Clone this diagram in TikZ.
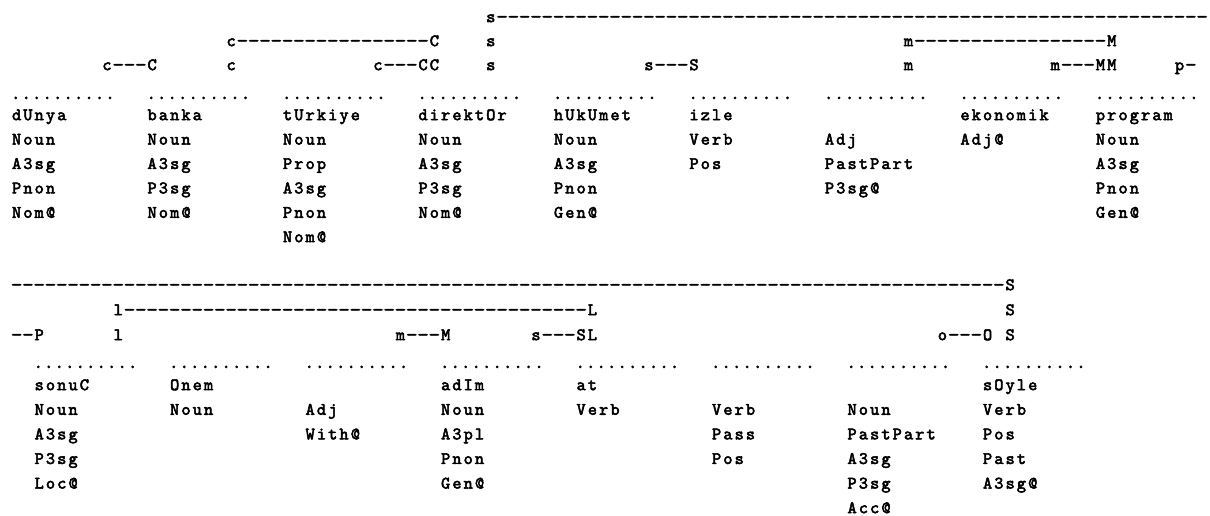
\documentclass[tikz,border=0pt]{standalone}
\usepackage{fontspec}
\newfontfamily\twb{lmmono10-regular.otf}[FakeBold=3]
\newlength\cw \setlength\cw{11.29pt}
\newlength\dw \setlength\dw{10.48pt}
\makeatletter
\newcommand\spc[1]{\@tfor\nx:=#1\do{\makebox[\cw][c]{\nx}}}
\makeatother
\newcommand\dsh[1]{\foreach\ii in {1,...,#1}{\makebox[\cw][c]{\scalebox{1.25}[1]{-}}}}
\newcommand\dotz{\foreach\ii in {1,...,10}{\makebox[\dw][c]{.}}}
\tikzset{
  tt/.style={anchor=mid west,inner sep=0pt,outer sep=0pt,font=\twb\fontsize{17.5}{20}\selectfont},
  dotrow/.style={tt,anchor=base west}}
\newcommand\Tx[4]{\node[tt] (#1) at ({11+11.29*#2},#3) {#4};}
\begin{document}
\begin{tikzpicture}[x=1pt,y=-1pt]
\fill[white] (0,0) rectangle (1210,515);
\useasboundingbox (0,0) rectangle (1210,515);
% ---------- top link rows
\Tx{la1}{42}{20}{\spc{s}\dsh{63}}
\Tx{lb1}{19}{44}{\spc{c}\dsh{17}\spc{C}}
\Tx{lb2}{42}{44}{\spc{s}}
\Tx{lb3}{79}{44}{\spc{m}\dsh{17}\spc{M}}
\Tx{lc1}{8}{68}{\spc{c}\dsh{3}\spc{C}}
\Tx{lc2}{19}{68}{\spc{c}}
\Tx{lc3}{32}{68}{\spc{c}\dsh{3}\spc{CC}}
\Tx{lc4}{42}{68}{\spc{s}}
\Tx{lc5}{56}{68}{\spc{s}\dsh{3}\spc{S}}
\Tx{lc6}{79}{68}{\spc{m}}
\Tx{lc7}{92}{68}{\spc{m}\dsh{3}\spc{MM}}
\Tx{lc8}{103}{68}{\spc{p}\dsh{1}}
% ---------- top dots
\foreach \k in {0,12,...,96}{\node[dotrow] (td\k) at ({11+11.29*\k-0.5},99) {\dotz};}
% ---------- top words
\Tx{a0}{0}{118}{\spc{dUnya}}
\Tx{a1}{0}{142.4}{\spc{Noun}}
\Tx{a2}{0}{166.8}{\spc{A3sg}}
\Tx{a3}{0}{191.2}{\spc{Pnon}}
\Tx{a4}{0}{215.6}{\spc{Nom@}}
\Tx{b0}{12}{118}{\spc{banka}}
\Tx{b1}{12}{142.4}{\spc{Noun}}
\Tx{b2}{12}{166.8}{\spc{A3sg}}
\Tx{b3}{12}{191.2}{\spc{P3sg}}
\Tx{b4}{12}{215.6}{\spc{Nom@}}
\Tx{c0}{24}{118}{\spc{tUrkiye}}
\Tx{c1}{24}{142.4}{\spc{Noun}}
\Tx{c2}{24}{166.8}{\spc{Prop}}
\Tx{c3}{24}{191.2}{\spc{A3sg}}
\Tx{c4}{24}{215.6}{\spc{Pnon}}
\Tx{c5}{24}{240}{\spc{Nom@}}
\Tx{e0}{36}{118}{\spc{direktOr}}
\Tx{e1}{36}{142.4}{\spc{Noun}}
\Tx{e2}{36}{166.8}{\spc{A3sg}}
\Tx{e3}{36}{191.2}{\spc{P3sg}}
\Tx{e4}{36}{215.6}{\spc{Nom@}}
\Tx{f0}{48}{118}{\spc{hUkUmet}}
\Tx{f1}{48}{142.4}{\spc{Noun}}
\Tx{f2}{48}{166.8}{\spc{A3sg}}
\Tx{f3}{48}{191.2}{\spc{Pnon}}
\Tx{f4}{48}{215.6}{\spc{Gen@}}
\Tx{g0}{60}{118}{\spc{izle}}
\Tx{g1}{60}{142.4}{\spc{Verb}}
\Tx{g2}{60}{166.8}{\spc{Pos}}
\Tx{h1}{72}{142.4}{\spc{Adj}}
\Tx{h2}{72}{166.8}{\spc{PastPart}}
\Tx{h3}{72}{191.2}{\spc{P3sg@}}
\Tx{i0}{84}{118}{\spc{ekonomik}}
\Tx{i1}{84}{142.4}{\spc{Adj@}}
\Tx{j0}{96}{118}{\spc{program}}
\Tx{j1}{96}{142.4}{\spc{Noun}}
\Tx{j2}{96}{166.8}{\spc{A3sg}}
\Tx{j3}{96}{191.2}{\spc{Pnon}}
\Tx{j4}{96}{215.6}{\spc{Gen@}}
% ---------- bottom link rows
\Tx{ma1}{0}{288}{\dsh{88}\spc{S}}
\Tx{mb1}{9}{313}{\spc{l}\dsh{41}\spc{L}}
\Tx{mb2}{88}{313}{\spc{S}}
\Tx{mc1}{0}{338}{\dsh{2}\spc{P}}
\Tx{mc2}{9}{338}{\spc{l}}
\Tx{mc3}{34}{338}{\spc{m}\dsh{3}\spc{M}}
\Tx{mc4}{46}{338}{\spc{s}\dsh{3}\spc{SL}}
\Tx{mc5}{82}{338}{\spc{o}\dsh{3}\spc{O}}
\Tx{mc6}{88}{338}{\spc{S}}
% ---------- bottom dots
\foreach \k in {2,14,...,86}{\node[dotrow] (bd\k) at ({11+11.29*\k-0.5},368) {\dotz};}
% ---------- bottom words
\Tx{p0}{2}{388}{\spc{sonuC}}
\Tx{p1}{2}{412.6}{\spc{Noun}}
\Tx{p2}{2}{437.2}{\spc{A3sg}}
\Tx{p3}{2}{461.8}{\spc{P3sg}}
\Tx{p4}{2}{486.4}{\spc{Loc@}}
\Tx{q0}{14}{388}{\spc{Onem}}
\Tx{q1}{14}{412.6}{\spc{Noun}}
\Tx{r1}{26}{412.6}{\spc{Adj}}
\Tx{r2}{26}{437.2}{\spc{With@}}
\Tx{s0}{38}{388}{\spc{adIm}}
\Tx{s1}{38}{412.6}{\spc{Noun}}
\Tx{s2}{38}{437.2}{\spc{A3pl}}
\Tx{s3}{38}{461.8}{\spc{Pnon}}
\Tx{s4}{38}{486.4}{\spc{Gen@}}
\Tx{u0}{50}{388}{\spc{at}}
\Tx{u1}{50}{412.6}{\spc{Verb}}
\Tx{v1}{62}{412.6}{\spc{Verb}}
\Tx{v2}{62}{437.2}{\spc{Pass}}
\Tx{v3}{62}{461.8}{\spc{Pos}}
\Tx{w1}{74}{412.6}{\spc{Noun}}
\Tx{w2}{74}{437.2}{\spc{PastPart}}
\Tx{w3}{74}{461.8}{\spc{A3sg}}
\Tx{w4}{74}{486.4}{\spc{P3sg}}
\Tx{w5}{74}{511}{\spc{Acc@}}
\Tx{z0}{86}{388}{\spc{sOyle}}
\Tx{z1}{86}{412.6}{\spc{Verb}}
\Tx{z2}{86}{437.2}{\spc{Pos}}
\Tx{z3}{86}{461.8}{\spc{Past}}
\Tx{z4}{86}{486.4}{\spc{A3sg@}}
\end{tikzpicture}
\end{document}
